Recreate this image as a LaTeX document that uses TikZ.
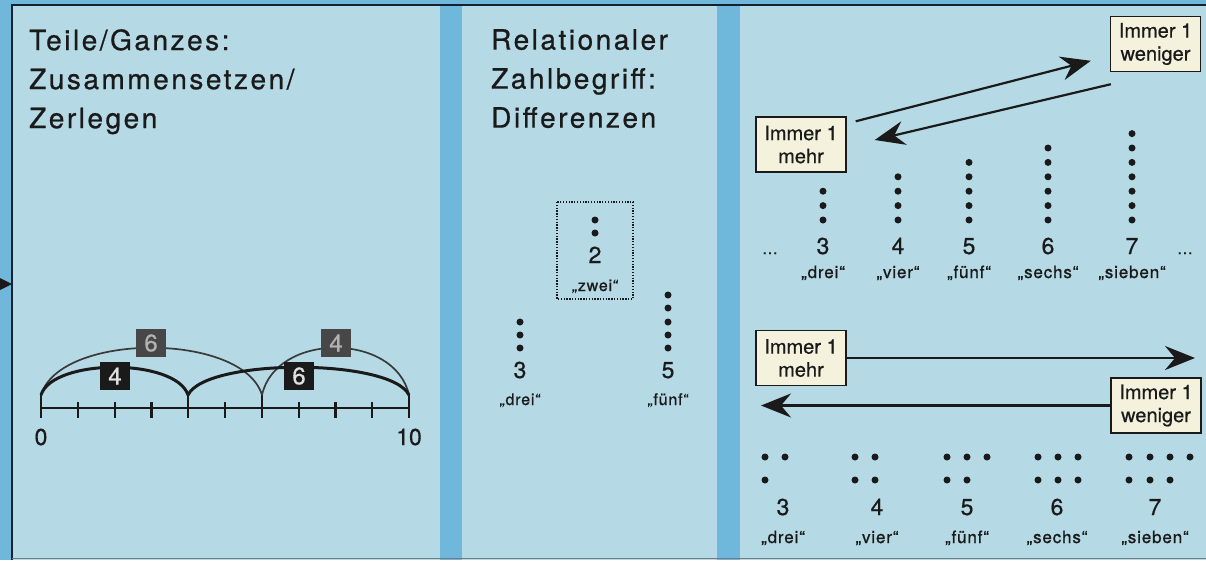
\documentclass[tikz,border=0pt]{standalone}
\usepackage{fontspec}
\setmainfont{TeX Gyre Heros}[FakeBold=0.6]
\newfontfamily\ttlfont{TeX Gyre Heros}[LetterSpace=9,FakeBold=0.8]
\newfontfamily\nmfont{TeX Gyre Heros}[LetterSpace=5,FakeBold=1]
\usetikzlibrary{arrows.meta}
\definecolor{paper}{HTML}{B5DAE5}
\definecolor{stripe}{HTML}{6FB8DC}
\definecolor{frame}{HTML}{15222E}
\definecolor{cream}{HTML}{F4F1DC}
\definecolor{ink}{HTML}{1A1A1A}
\definecolor{arcgray}{HTML}{3A3A3A}
\definecolor{boxgray}{HTML}{474747}
\begin{document}
\begin{tikzpicture}[x=1pt,y=-1pt,
  ttlbox/.style={anchor=north west, inner sep=0pt, align=left, font=\ttlfont\fontsize{28}{39}\selectfont, text=ink},
  labelbox/.style={draw=ink, line width=1.4pt, fill=cream, align=center, font=\fontsize{20}{23}\selectfont, text=ink, minimum width=90pt, minimum height=55pt, inner sep=1pt},
  numtxt/.style={anchor=base, inner sep=0pt, font=\fontsize{23}{23}\selectfont, text=ink},
  wordtxt/.style={anchor=base, inner sep=0pt, font=\nmfont\fontsize{17}{17}\selectfont, text=ink},
  swordtxt/.style={anchor=base, inner sep=0pt, font=\nmfont\fontsize{16}{16}\selectfont, text=ink},
  bigarrow/.style={line width=2.2pt, draw=ink, -{Stealth[length=30pt,width=24pt,inset=10pt]}},
  digbox/.style={minimum width=30pt, minimum height=28pt, inner sep=0pt, font=\fontsize{24}{24}\selectfont},
  thickarc/.style={draw=ink, line width=3pt},
  thinarc/.style={draw=arcgray, line width=1.7pt},
  tickline/.style={draw=ink, line width=2.2pt},
  dotfill/.style={fill=ink},
]
\useasboundingbox (0,0) rectangle (1206,560);
% background
\fill[stripe] (0,0) rectangle (1206,560);
\fill[paper] (12,5) rectangle (1206,560);
\fill[stripe] (440,5) rectangle (462,560);
\fill[stripe] (717,5) rectangle (740,560);
\draw[frame, line width=2.5pt] (12,560) -- (12,5) -- (1206,5);
\draw[frame!60, line width=1pt] (12,558.5) -- (1206,558.5);
\fill[ink] (0,278) -- (12,284) -- (0,290) -- cycle;

% titles
\node[ttlbox] (t1) at (29,29) {Teile/Ganzes:\\Zusammensetzen/\\Zerlegen};
\node[ttlbox] (t2) at (491,29) {Relationaler\\Zahlbegriff:\\Differenzen};

% number line
\draw[tickline] (41,408) -- (409,408);
\foreach \i in {1,2,3,5,7,8,9} \draw[tickline] (41+36.8*\i,402) -- (41+36.8*\i,418);
\foreach \i in {0,4,6,10} \draw[tickline] (41+36.8*\i,395) -- (41+36.8*\i,418);
\node[numtxt] (n0) at (41,445) {0};
\node[numtxt] (n10) at (409,445) {10};
\draw[thinarc] (41,395) .. controls (60,332) and (243,332) .. (262,395);
\draw[thinarc] (262,395) .. controls (276,332) and (395,332) .. (409,395);
\draw[thickarc] (41,395) .. controls (53,358) and (176,358) .. (188,395);
\draw[thickarc] (188,395) .. controls (206,358) and (391,358) .. (409,395);
\node[digbox, fill=boxgray, text=black!30] (g6) at (151,343) {6};
\node[digbox, fill=boxgray, text=black!30] (g4) at (336,343) {4};
\node[digbox, fill=ink, text=black!12] (k4) at (115,376) {4};
\node[digbox, fill=ink, text=black!12] (k6) at (299,376) {6};

% panel 2
\draw[ink, line width=1.4pt, dash pattern=on 1.3pt off 1.5pt] (557,202) rectangle (633,299);
\foreach \y in {220,233} \fill[dotfill] (595,\y) circle (3.5pt);
\node[numtxt] (z2) at (595,263) {2};
\node[swordtxt] (zw) at (595,291) {„zwei“};
\foreach \y in {322,335,348} \fill[dotfill] (520,\y) circle (3.5pt);
\node[numtxt] (d3) at (520,378) {3};
\node[swordtxt] (dd) at (520,405) {„drei“};
\foreach \y in {295,308,322,335,348} \fill[dotfill] (668,\y) circle (3.5pt);
\node[numtxt] (f5) at (668,378) {5};
\node[swordtxt] (ff) at (668,405) {„fünf“};

% panel 3 top
\foreach \x/\n in {823/3,898/4,969/5,1048/6,1132/7}{
  \foreach \k in {1,...,\n} \fill[dotfill] (\x,220-14.4*\k+14.4) circle (3.5pt);
}
\node[numtxt] (a3) at (823,254) {3};
\node[numtxt] (a4) at (898,254) {4};
\node[numtxt] (a5) at (969,254) {5};
\node[numtxt] (a6) at (1048,254) {6};
\node[numtxt] (a7) at (1132,254) {7};
\node[wordtxt] (an3) at (823,278) {„drei“};
\node[wordtxt] (an4) at (898,278) {„vier“};
\node[wordtxt] (an5) at (969,278) {„fünf“};
\node[wordtxt] (an6) at (1048,278) {„sechs“};
\node[wordtxt] (an7) at (1132,278) {„sieben“};
\node[swordtxt] (el1) at (770,254) {...};
\node[swordtxt] (el2) at (1185,254) {...};
\node[labelbox] (m1) at (801,144.5) {Immer 1\\mehr};
\node[labelbox] (w1) at (1155.5,44) {Immer 1\\weniger};
\draw[bigarrow] ([shift={(9,5)}]m1.north east) -- ([shift={(-19,45)}]w1.north west);
\draw[bigarrow] ([shift={(1,12)}]w1.south west) -- ([shift={(28,-4.5)}]m1.east);

% panel 3 bottom
\node[labelbox] (m2) at (801,358) {Immer 1\\mehr};
\node[labelbox] (w2) at (1156,405.5) {Immer 1\\weniger};
\coordinate (r1) at (1195,358);
\coordinate (l1) at (761,405.5);
\draw[bigarrow] (m2.east) -- (r1);
\draw[bigarrow] (w2.west) -- (l1);
\foreach \x/\y in {765/457,785/457,765/480,
  855/457,875/457,855/480,875/480,
  947/457,967/457,987/457,947/480,967/480,
  1038/457,1058/457,1078/457,1038/480,1058/480,1078/480,
  1129/457,1150/457,1170/457,1190/457,1129/480,1150/480,1170/480}
  \fill[dotfill] (\x,\y) circle (3.5pt);
\node[numtxt] (b3) at (783,515) {3};
\node[numtxt] (b4) at (877,515) {4};
\node[numtxt] (b5) at (967,515) {5};
\node[numtxt] (b6) at (1057,515) {6};
\node[numtxt] (b7) at (1155,515) {7};
\node[wordtxt] (bn3) at (783,543) {„drei“};
\node[wordtxt] (bn4) at (877,543) {„vier“};
\node[wordtxt] (bn5) at (967,543) {„fünf“};
\node[wordtxt] (bn6) at (1057,543) {„sechs“};
\node[wordtxt] (bn7) at (1155,543) {„sieben“};
\end{tikzpicture}
\end{document}
